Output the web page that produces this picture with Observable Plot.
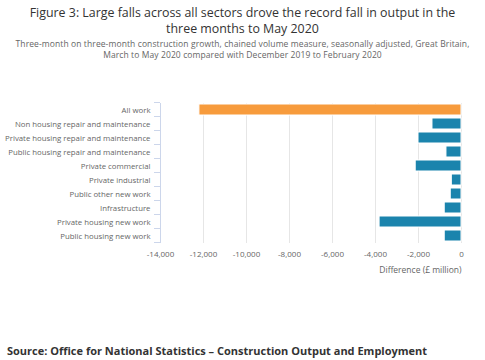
<!DOCTYPE html>
<html>
<head>
<meta charset="utf-8">
<script src="https://cdn.jsdelivr.net/npm/d3@7"></script>
<script src="https://cdn.jsdelivr.net/npm/@observablehq/plot@0.6"></script>
<style>
  html, body { margin: 0; padding: 0; background: #fff; width: 485px; height: 360px; overflow: hidden; font-family: "Open Sans", sans-serif; }
  #title { position: absolute; left: 0; width: 485px; top: 5px; text-align: center; font-size: 12.4px; line-height: 16px; color: #333; white-space: nowrap; }
  #subtitle { position: absolute; left: 0; width: 485px; top: 38px; text-align: center; font-size: 8.5px; letter-spacing: 0.1px; line-height: 11px; color: #666; white-space: nowrap; }
  #chart { position: absolute; left: 0; top: 70px; }
  #source { position: absolute; left: 7px; top: 344px; font-size: 11px; line-height: 14px; font-weight: bold; color: #333; white-space: nowrap; }
</style>
</head>
<body>
<div id="title">Figure 3: Large falls across all sectors drove the record fall in output in the<br>three months to May 2020</div>
<div id="subtitle">Three-month on three-month construction growth, chained volume measure, seasonally adjusted, Great Britain,<br>March to May 2020 compared with December 2019 to February 2020</div>
<div id="chart"></div>
<div id="source">Source: Office for National Statistics – Construction Output and Employment</div>
<script>
const categories = [
  "All work",
  "Non housing repair and maintenance",
  "Private housing repair and maintenance",
  "Public housing repair and maintenance",
  "Private commercial",
  "Private industrial",
  "Public other new work",
  "Infrastructure",
  "Private housing new work",
  "Public housing new work"
];
const values = [-12190, -1350, -2000, -700, -2130, -450, -500, -780, -3810, -780];
const xTicks = [-14000, -12000, -10000, -8000, -6000, -4000, -2000, 0];
const xLabel = ["Difference (£ million)"];

const data = categories.map((c, i) => ({category: c, value: values[i], total: i === 0}));

const chart = Plot.plot({
  width: 485,
  height: 220,
  marginTop: 33,
  marginBottom: 47,
  marginLeft: 160,
  marginRight: 24,
  style: {fontFamily: "Open Sans, sans-serif", fontSize: "8px", color: "#666", background: "#fff"},
  x: {domain: [-14000, 0], ticks: xTicks},
  y: {domain: categories, paddingInner: 0.2, paddingOuter: 0.1},
  marks: [
    Plot.gridX(xTicks, {stroke: "#e6e6e6", strokeOpacity: 1}),
    Plot.axisX(xTicks, {tickSize: 0, tickPadding: 8, tickFormat: d => d.toLocaleString("en-US"), label: null, fill: "#666"}),
    Plot.axisY({tickSize: 0, tickPadding: 10, label: null, fill: "#666", fontSize: "7.8px"}),
    Plot.barX(data, {x: "value", y: "category", fill: d => d.total ? "#f79b3c" : "#1b84ad", stroke: "#fff", strokeWidth: 1}),
    Plot.ruleX([-14000], {stroke: "#ccd6eb", strokeWidth: 1}),
    Plot.text(xLabel, {frameAnchor: "bottom-right", text: d => d, dy: 29, textAnchor: "end", fill: "#666", fontSize: "8.5px"})
  ]
});
document.getElementById("chart").appendChild(chart);

// category tick marks at band boundaries (Highcharts-style)
const y = chart.scale("y");
const svg = d3.select(chart);
const step = y.step;
const boundaries = categories.map(c => y.apply(c) - (step - y.bandwidth) / 2).concat([y.apply(categories[categories.length - 1]) + y.bandwidth + (step - y.bandwidth) / 2]);
const xPos = chart.scale("x").apply(-14000);
svg.append("g").selectAll("line").data(boundaries).join("line")
  .attr("x1", xPos - 6).attr("x2", xPos)
  .attr("y1", d => d).attr("y2", d => d)
  .attr("stroke", "#ccd6eb").attr("stroke-width", 1);
</script>
</body>
</html>
